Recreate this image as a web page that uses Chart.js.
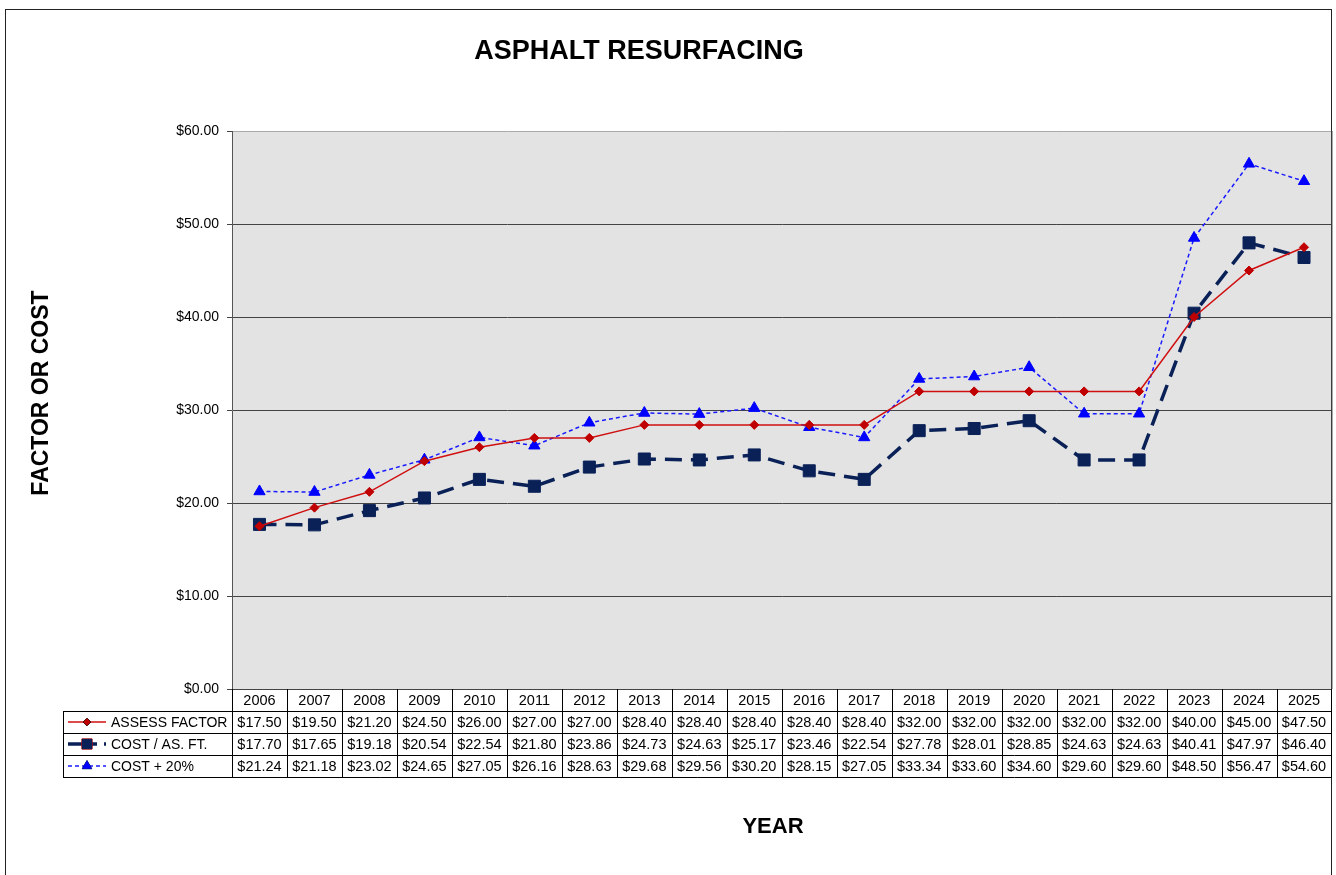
<!DOCTYPE html>
<html>
<head>
<meta charset="utf-8">
<script src="https://cdn.jsdelivr.net/npm/chart.js@4/dist/chart.umd.min.js"></script>
<style>
  html, body { margin: 0; padding: 0; background: #fff; }
  #wrap { width: 1336px; height: 875px; position: relative; overflow: hidden; }
</style>
</head>
<body>
<div id="wrap"><canvas id="chart" width="1341" height="875"></canvas></div>
<script>
const years = ['2006','2007','2008','2009','2010','2011','2012','2013','2014','2015',
  '2016','2017','2018','2019','2020','2021','2022','2023','2024','2025'];
const assessFactor = [17.50,19.50,21.20,24.50,26.00,27.00,27.00,28.40,28.40,28.40,
  28.40,28.40,32.00,32.00,32.00,32.00,32.00,40.00,45.00,47.50];
const costPerFt = [17.70,17.65,19.18,20.54,22.54,21.80,23.86,24.73,24.63,25.17,
  23.46,22.54,27.78,28.01,28.85,24.63,24.63,40.41,47.97,46.40];
const costPlus20 = [21.24,21.18,23.02,24.65,27.05,26.16,28.63,29.68,29.56,30.20,
  28.15,27.05,33.34,33.60,34.60,29.60,29.60,48.50,56.47,54.60];
const seriesNames = ['ASSESS FACTOR', 'COST / AS. FT.', 'COST + 20%'];
const yTicks = [0, 10, 20, 30, 40, 50, 60];

const FONT = '"Liberation Sans", Arial, sans-serif';
const money = v => '$' + v.toFixed(2);

// background, frame, titles and the data table under the plot
const tablePlugin = {
  id: 'tablePlugin',
  beforeDraw(chart) {
    const { ctx, chartArea: a } = chart;
    ctx.save();
    ctx.fillStyle = '#e3e3e3';
    ctx.fillRect(a.left, a.top, a.right - a.left, a.bottom - a.top);
    ctx.restore();
  },
  afterDraw(chart) {
    const { ctx, chartArea: a, scales } = chart;
    const x = scales.x;
    ctx.save();

    // outer frame
    ctx.strokeStyle = '#222';
    ctx.lineWidth = 1;
    ctx.strokeRect(5.5, 9.5, 1326, 900);

    // plot right border
    ctx.strokeStyle = '#555';
    ctx.beginPath();
    ctx.moveTo(a.right + 0.5, a.top);
    ctx.lineTo(a.right + 0.5, a.bottom);
    ctx.stroke();

    // titles
    ctx.fillStyle = '#000';
    ctx.textAlign = 'center';
    ctx.textBaseline = 'middle';
    ctx.font = 'bold 27px ' + FONT;
    ctx.fillText('ASPHALT RESURFACING', 639, 52);
    ctx.font = 'bold 22px ' + FONT;
    ctx.fillText('YEAR', 773, 827);
    ctx.save();
    ctx.translate(42, 393);
    ctx.rotate(-Math.PI / 2);
    ctx.font = 'bold 23px ' + FONT;
    ctx.fillText('FACTOR OR COST', 0, 0);
    ctx.restore();

    // table geometry
    const rowTop = a.bottom;
    const rowH = 22;
    const legLeft = 63;
    const colW = x.getPixelForValue(1) - x.getPixelForValue(0);
    const colLeft = a.left;
    const colRight = a.right;
    const rows = [assessFactor, costPerFt, costPlus20];

    ctx.strokeStyle = '#000';
    ctx.lineWidth = 1;
    ctx.beginPath();
    for (let r = 1; r <= 4; r++) {
      const yy = Math.round(rowTop + rowH * r) + 0.5;
      ctx.moveTo(legLeft, yy);
      ctx.lineTo(colRight, yy);
    }
    for (let i = 0; i <= years.length; i++) {
      const xx = Math.round(colLeft + colW * i) + 0.5;
      ctx.moveTo(xx, rowTop);
      ctx.lineTo(xx, rowTop + rowH * 4);
    }
    ctx.moveTo(legLeft + 0.5, rowTop + rowH);
    ctx.lineTo(legLeft + 0.5, rowTop + rowH * 4);
    ctx.stroke();

    // year headers and values
    ctx.font = '14.5px ' + FONT;
    ctx.fillStyle = '#000';
    ctx.textAlign = 'center';
    years.forEach((yr, i) => {
      const cx = x.getPixelForValue(i);
      ctx.fillText(yr, cx, rowTop + rowH / 2 + 1);
      rows.forEach((arr, r) => {
        ctx.fillText(money(arr[i]), cx, rowTop + rowH * (r + 1) + rowH / 2 + 1);
      });
    });

    // legend keys
    ctx.textAlign = 'left';
    ctx.font = '14px ' + FONT;
    chart.data.datasets.forEach((ds, r) => {
      const cy = rowTop + rowH * (r + 1) + rowH / 2;
      ctx.save();
      ctx.strokeStyle = ds.borderColor;
      ctx.lineWidth = ds.borderWidth;
      ctx.setLineDash(r === 1 ? [29, 7, 4, 100] : (ds.borderDash || []));
      ctx.beginPath();
      ctx.moveTo(68, cy);
      ctx.lineTo(106, cy);
      ctx.stroke();
      ctx.restore();
      Chart.helpers.drawPoint(ctx, {
        pointStyle: ds.pointStyle,
        radius: ds.pointRadius * 0.85,
        borderWidth: 1
      }, 87, cy);
      ctx.fillStyle = ds.pointBackgroundColor;
      ctx.strokeStyle = ds.pointBorderColor;
      ctx.fill();
      ctx.fillStyle = '#000';
      ctx.fillText(seriesNames[r], 111, cy + 1);
    });

    ctx.restore();
  }
};

new Chart(document.getElementById('chart'), {
  type: 'line',
  data: {
    labels: years,
    datasets: [
      {
        label: seriesNames[0],
        data: assessFactor,
        borderColor: '#d01010',
        borderWidth: 1.5,
        pointStyle: 'rectRot',
        pointRadius: 4.5,
        pointBackgroundColor: '#c00000',
        pointBorderColor: '#c00000',
        pointBorderWidth: 1
      },
      {
        label: seriesNames[1],
        data: costPerFt,
        borderColor: '#0a2158',
        borderWidth: 3.5,
        borderDash: [17, 9],
        pointStyle: 'rect',
        pointRadius: 8.5,
        pointBackgroundColor: '#0a2158',
        pointBorderColor: '#0a2158',
        pointBorderWidth: 1
      },
      {
        label: seriesNames[2],
        data: costPlus20,
        borderColor: '#1a1aff',
        borderWidth: 1.5,
        borderDash: [4, 3],
        pointStyle: 'triangle',
        pointRadius: 6.5,
        pointBackgroundColor: '#0000ff',
        pointBorderColor: '#0000ff',
        pointBorderWidth: 1
      }
    ]
  },
  options: {
    responsive: false,
    animation: false,
    layout: { padding: { top: 131, right: 0, left: 0, bottom: 0 } },
    plugins: { legend: { display: false }, title: { display: false }, tooltip: { enabled: false } },
    scales: {
      x: {
        type: 'category',
        offset: true,
        grid: { display: false },
        border: { display: false },
        ticks: { display: false },
        afterFit: s => { s.height = 186; }
      },
      y: {
        min: 0,
        max: 60,
        afterBuildTicks: s => { s.ticks = yTicks.map(v => ({ value: v })); },
        border: { color: '#555' },
        grid: {
          color: c => (c.tick && c.tick.value === 60 ? '#aaa' : '#444'),
          tickColor: '#444',
          tickLength: 5
        },
        ticks: {
          font: { family: FONT, size: 14 },
          color: '#000',
          padding: 8,
          callback: v => money(v)
        },
        afterFit: s => { s.width = 232; }
      }
    }
  },
  plugins: [tablePlugin]
});
</script>
</body>
</html>
